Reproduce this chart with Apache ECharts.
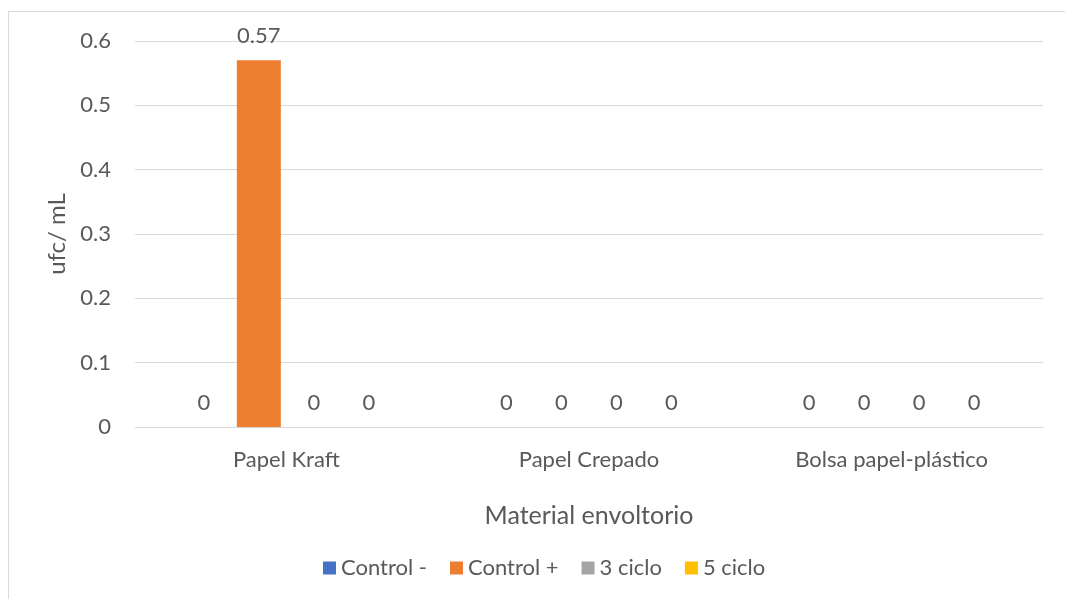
<!DOCTYPE html>
<html>
<head>
<meta charset="utf-8">
<script src="https://cdn.jsdelivr.net/npm/echarts@6/dist/echarts.min.js"></script>
<style>
  html, body { margin: 0; padding: 0; background: #fff; overflow: hidden; }
  #wrap { position: relative; width: 1065px; height: 599px; }
  #frame { position: absolute; left: 8px; top: 11px; width: 1100px; height: 700px; border: 1px solid #d9d9d9; }
  #main { position: absolute; left: 0; top: 0; width: 1065px; height: 599px; }
</style>
</head>
<body>
<div id="wrap">
  <div id="frame"></div>
  <div id="main"></div>
</div>
<script>
const categories = ["Papel Kraft", "Papel Crepado", "Bolsa papel-plástico"];
const seriesNames = ["Control -", "Control +", "3 ciclo", "5 ciclo"];
const controlMenos = [0, 0, 0];
const controlMas = [0.57, 0, 0];
const ciclo3 = [0, 0, 0];
const ciclo5 = [0, 0, 0];
const colors = ["#4472C4", "#ED7D31", "#A5A5A5", "#FFC000"];

const font = "Lato, 'Liberation Sans', sans-serif";
const textColor = "#595959";

function makeSeries(name, data, color) {
  return {
    name: name,
    type: "bar",
    data: data,
    barWidth: 44,
    barGap: "25%",
    itemStyle: { color: color },
    label: {
      show: true,
      position: "top",
      distance: 13,
      color: textColor,
      fontFamily: font,
      fontSize: 22,
    },
  };
}

const chart = echarts.init(document.getElementById("main"));
const option = {
  animation: false,
  color: colors,
  textStyle: { fontFamily: font },
  grid: { left: 135, right: 22, top: 41, bottom: 172 },
  legend: {
    left: 318,
    top: 552,
    itemWidth: 13,
    itemHeight: 13,
    itemGap: 23,
    icon: "rect",
    textStyle: { color: textColor, fontSize: 22, fontFamily: font },
    data: seriesNames,
  },
  xAxis: {
    type: "category",
    data: categories,
    name: "Material envoltorio",
    nameLocation: "middle",
    nameGap: 76,
    nameTextStyle: { color: textColor, fontSize: 25, fontFamily: font },
    axisLine: { lineStyle: { color: "#d9d9d9", width: 1 } },
    axisTick: { show: false },
    axisLabel: { color: textColor, fontSize: 22, fontFamily: font, margin: 22 },
  },
  yAxis: {
    type: "value",
    min: 0,
    max: 0.6,
    interval: 0.1,
    name: "ufc/ mL",
    nameLocation: "middle",
    nameGap: 63,
    nameTextStyle: { color: textColor, fontSize: 24, fontFamily: font },
    axisLine: { show: false },
    axisTick: { show: false },
    splitLine: { lineStyle: { color: "#d9d9d9", width: 1 } },
    axisLabel: { color: textColor, fontSize: 22, fontFamily: font, margin: 24 },
  },
  series: [
    makeSeries(seriesNames[0], controlMenos, colors[0]),
    makeSeries(seriesNames[1], controlMas, colors[1]),
    makeSeries(seriesNames[2], ciclo3, colors[2]),
    makeSeries(seriesNames[3], ciclo5, colors[3]),
  ],
};
chart.setOption(option);
</script>
</body>
</html>
